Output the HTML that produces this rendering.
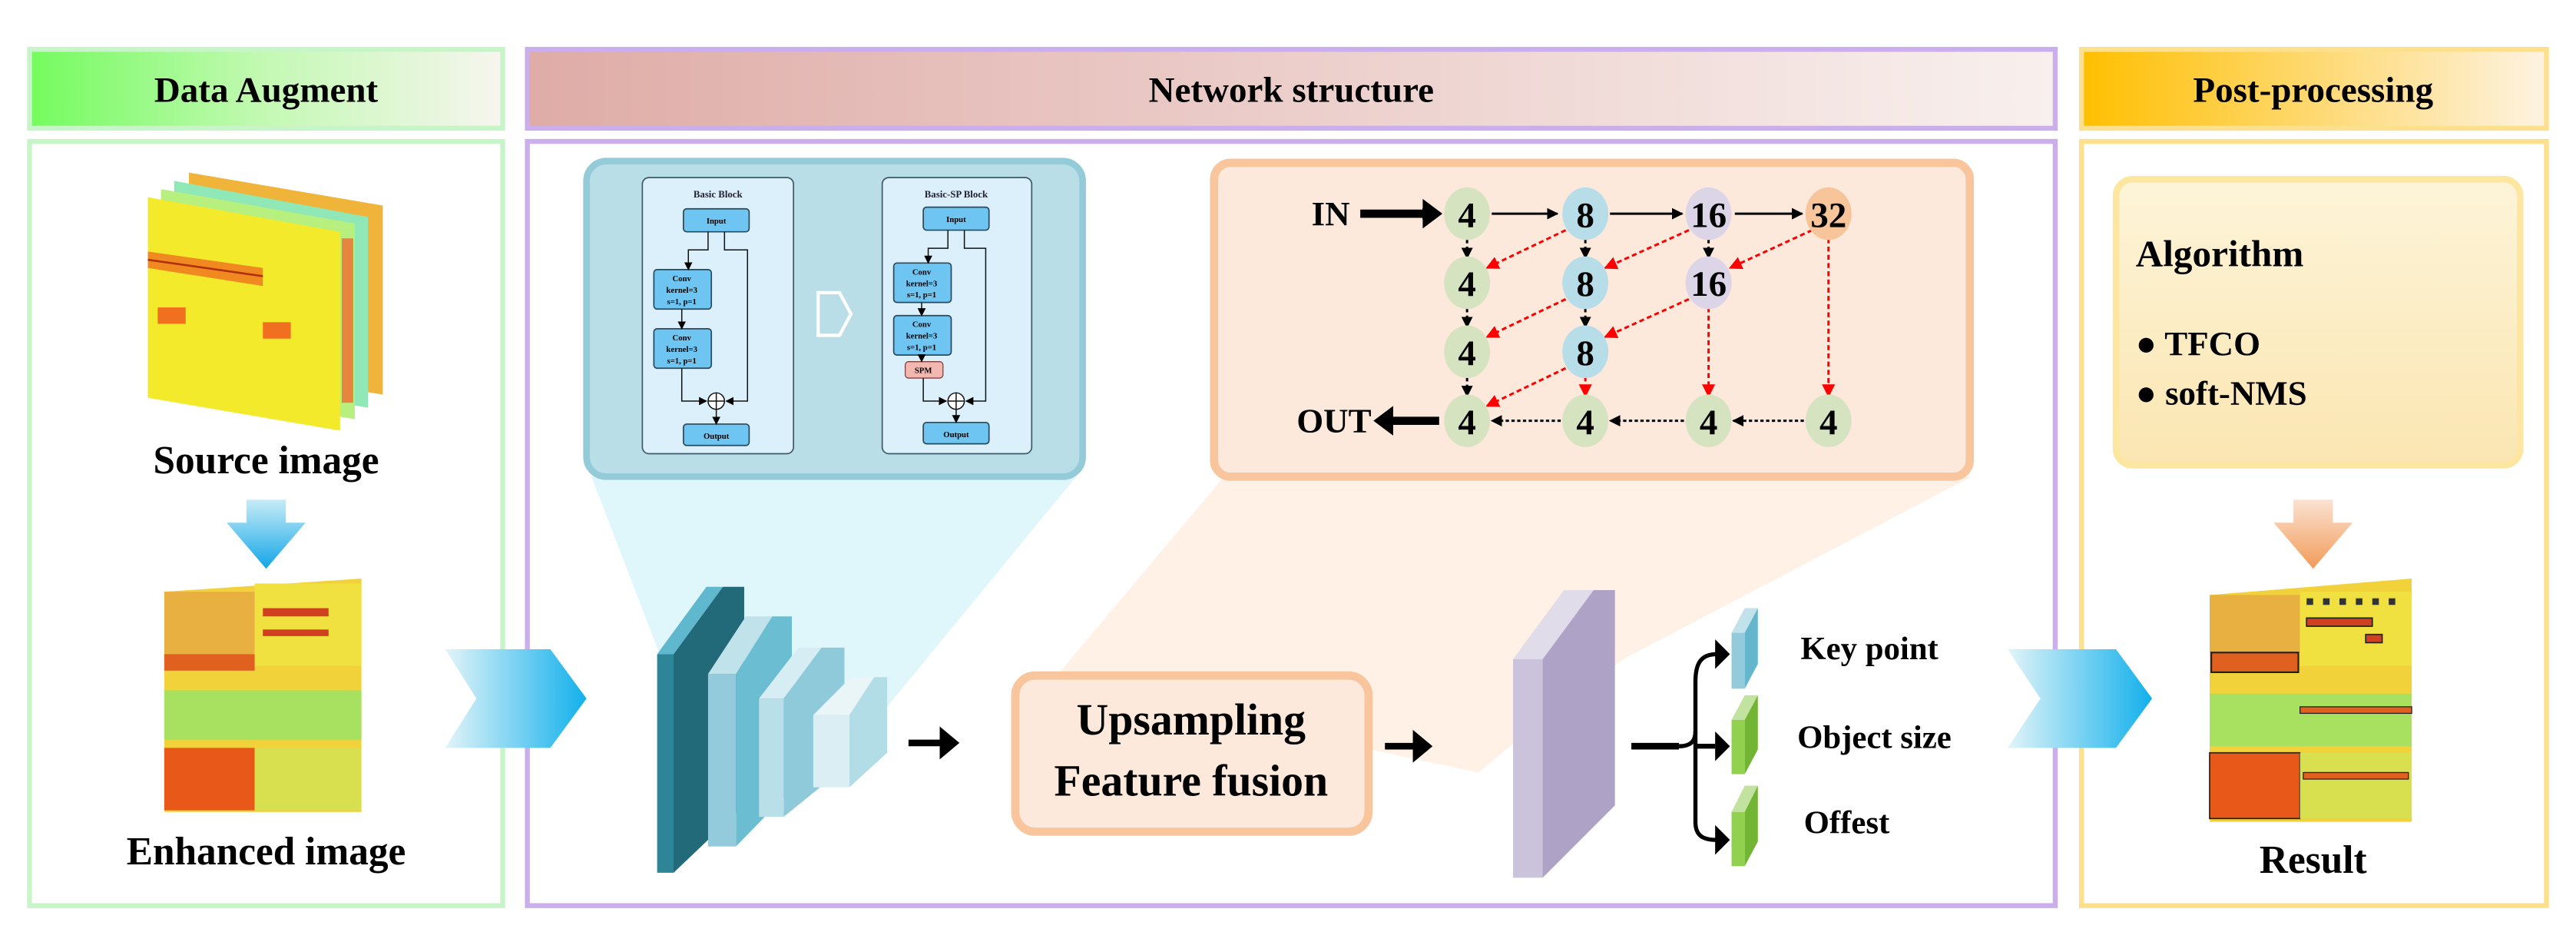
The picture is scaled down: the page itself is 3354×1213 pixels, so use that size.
<!DOCTYPE html>
<html><head><meta charset="utf-8"><style>html,body{margin:0;padding:0;background:#fff}svg{display:block}text{font-family:"Liberation Serif",serif;font-weight:bold}</style></head><body>
<svg width="3354" height="1213" viewBox="0 0 1568 567" xmlns="http://www.w3.org/2000/svg">
<defs>
<linearGradient id="gG" x1="0" x2="1"><stop offset="0" stop-color="#74fb5e"/><stop offset="0.5" stop-color="#c4f9b4"/><stop offset="1" stop-color="#f7f5ef"/></linearGradient>
<linearGradient id="gP" x1="0" x2="1"><stop offset="0" stop-color="#dfaca7"/><stop offset="1" stop-color="#f8f0ee"/></linearGradient>
<linearGradient id="gO" x1="0" x2="1"><stop offset="0" stop-color="#ffbf00"/><stop offset="1" stop-color="#fdf3e2"/></linearGradient>
<linearGradient id="gChev" x1="0" x2="1"><stop offset="0" stop-color="#e2f4f8"/><stop offset="1" stop-color="#12b0ec"/></linearGradient>
<linearGradient id="gDown" x1="0" x2="0" y1="0" y2="1"><stop offset="0" stop-color="#c6ecf6"/><stop offset="1" stop-color="#12a6e8"/></linearGradient>
<linearGradient id="gDownO" x1="0" x2="0" y1="0" y2="1"><stop offset="0" stop-color="#fbe2d2"/><stop offset="1" stop-color="#f29b58"/></linearGradient>
<linearGradient id="gAlg" x1="0" x2="0" y1="0" y2="1"><stop offset="0" stop-color="#fdf4d8"/><stop offset="1" stop-color="#fbe6b2"/></linearGradient>
<marker id="ab" viewBox="0 0 10 10" refX="9" refY="5" markerWidth="7" markerHeight="7" orient="auto" markerUnits="userSpaceOnUse"><path d="M0,0L10,5L0,10z" fill="#000"/></marker>
<marker id="ar" viewBox="0 0 10 10" refX="9" refY="5" markerWidth="8" markerHeight="8" orient="auto" markerUnits="userSpaceOnUse"><path d="M0,0L10,5L0,10z" fill="#f00"/></marker>
<marker id="abs" viewBox="0 0 10 10" refX="9" refY="5" markerWidth="5" markerHeight="5" orient="auto" markerUnits="userSpaceOnUse"><path d="M0,0L10,5L0,10z" fill="#000"/></marker>
</defs>

<rect x="18" y="30" width="288" height="48" fill="url(#gG)" stroke="#c8f5c8" stroke-width="3"/>
<rect x="321" y="30" width="930" height="48" fill="url(#gP)" stroke="#cbaeec" stroke-width="3"/>
<rect x="1267" y="30" width="283" height="48" fill="url(#gO)" stroke="#fde08e" stroke-width="3"/>
<text x="162" y="62" font-size="22" text-anchor="middle">Data Augment</text>
<text x="786" y="62" font-size="22" text-anchor="middle">Network structure</text>
<text x="1408" y="62" font-size="22" text-anchor="middle">Post-processing</text>
<rect x="18" y="86" width="288" height="465" fill="#fff" stroke="#c8f5c8" stroke-width="3"/>
<rect x="321" y="86" width="930" height="465" fill="#fff" stroke="#cbaeec" stroke-width="3"/>
<rect x="1267" y="86" width="283" height="465" fill="#fff" stroke="#fde08e" stroke-width="3"/>

<!-- source image stack -->
<polygon points="115,105 233,125 233,240 115,222" fill="#f0b43a"/>
<polygon points="106,110 224,132 224,248 106,228" fill="#8fe8b6"/>
<polygon points="98,115 216,136 216,255 98,236" fill="#b8f080"/>
<polygon points="90,120 207,141 207,262 90,242" fill="#f2ea2a"/>
<polygon points="90,153 160,163 160,174 90,163" fill="#f08a20"/>
<line x1="90" y1="158" x2="160" y2="168" stroke="#b03010" stroke-width="1.2"/>
<rect x="96" y="187" width="17" height="10" fill="#f07020"/>
<rect x="160" y="196" width="17" height="10" fill="#f07020"/>
<rect x="208" y="145" width="7" height="100" fill="#f06a30" opacity="0.8"/>
<text x="162" y="288" font-size="24" text-anchor="middle">Source image</text>
<polygon points="150,304 174,304 174,318 186,318 162,346 138,318 150,318" fill="url(#gDown)"/>
<polygon points="100,360 220,352 220,494 100,494" fill="#f2d23a"/>
<rect x="100" y="360" width="55" height="40" fill="#e8b040"/>
<rect x="155" y="355" width="65" height="50" fill="#f0e040"/>
<rect x="100" y="398" width="55" height="10" fill="#e06020"/>
<rect x="160" y="370" width="40" height="5" fill="#d04020"/>
<rect x="160" y="383" width="40" height="4" fill="#d04020"/>
<rect x="100" y="420" width="120" height="30" fill="#a8e060"/>
<rect x="100" y="455" width="55" height="38" fill="#e85818"/>
<rect x="155" y="455" width="65" height="38" fill="#d8e050"/>
<text x="162" y="526" font-size="24" text-anchor="middle">Enhanced image</text>

<polygon points="271,395 335,395 357,425 335,455 271,455 290,425" fill="url(#gChev)"/>
<polygon points="1222,395 1288,395 1310,425 1288,455 1222,455 1242,425" fill="url(#gChev)"/>

<polygon points="360,290 655,290 540,430 410,420" fill="#dff6fb"/>
<polygon points="745,290 1200,290 990,400 960,420 900,470 640,415" fill="#fff1e6"/>

<rect x="357" y="98" width="302" height="192" rx="12" fill="#b9dee8" stroke="#93cbd9" stroke-width="4"/>
<rect x="391" y="108" width="92" height="168" rx="4" fill="#dcf0fc" stroke="#3d5a6a" stroke-width="0.8"/>
<rect x="537" y="108" width="91" height="168" rx="4" fill="#dcf0fc" stroke="#3d5a6a" stroke-width="0.8"/>
<g font-size="6" text-anchor="middle" fill="#223">
<text x="437" y="120" font-weight="normal">Basic Block</text>
<text x="582" y="120" font-weight="normal">Basic-SP Block</text>
</g>
<g fill="#6ec5f2" stroke="#2a4a5a" stroke-width="0.8">
<rect x="416" y="127" width="40" height="14" rx="2"/>
<rect x="398" y="164" width="35" height="24" rx="2"/>
<rect x="398" y="200" width="35" height="24" rx="2"/>
<rect x="416" y="258" width="40" height="13" rx="2"/>
<rect x="562" y="126" width="40" height="14" rx="2"/>
<rect x="544" y="160" width="35" height="24" rx="2"/>
<rect x="544" y="192" width="35" height="24" rx="2"/>
<rect x="562" y="257" width="40" height="13" rx="2"/>
</g>
<rect x="551" y="220" width="23" height="10" rx="2" fill="#f2b8b0" stroke="#804040" stroke-width="0.6"/>
<g font-size="5" text-anchor="middle" font-weight="normal">
<text x="436" y="136">Input</text><text x="582" y="135">Input</text>
<text x="415" y="171">Conv</text><text x="415" y="178">kernel=3</text><text x="415" y="185">s=1, p=1</text>
<text x="415" y="207">Conv</text><text x="415" y="214">kernel=3</text><text x="415" y="221">s=1, p=1</text>
<text x="561" y="167">Conv</text><text x="561" y="174">kernel=3</text><text x="561" y="181">s=1, p=1</text>
<text x="561" y="199">Conv</text><text x="561" y="206">kernel=3</text><text x="561" y="213">s=1, p=1</text>
<text x="562" y="227">SPM</text>
<text x="436" y="267">Output</text><text x="582" y="266">Output</text>
</g>
<g fill="none" stroke="#111" stroke-width="0.7">
<path d="M431,141V152H419V164" marker-end="url(#abs)"/><path d="M441,141V152H455V244H442" marker-end="url(#abs)"/>
<path d="M415,188V200" marker-end="url(#abs)"/><path d="M415,224V244H430" marker-end="url(#abs)"/>
<circle cx="436" cy="244" r="5" fill="#fff"/><path d="M431,244H441M436,239V249"/><path d="M436,249V258" marker-end="url(#abs)"/>
<path d="M577,140V151H565V160" marker-end="url(#abs)"/><path d="M587,140V151H600V244H588" marker-end="url(#abs)"/>
<path d="M561,184V192" marker-end="url(#abs)"/><path d="M561,216V220" marker-end="url(#abs)"/><path d="M562,230V244H576" marker-end="url(#abs)"/>
<circle cx="582" cy="244" r="5" fill="#fff"/><path d="M577,244H587M582,239V249"/><path d="M582,249V257" marker-end="url(#abs)"/>
</g>
<polygon points="498,178 511,178 518,191 511,204 498,204" fill="none" stroke="#fff" stroke-width="2"/>

<rect x="739" y="99" width="460" height="191" rx="10" fill="#fce9dc" stroke="#f8c59c" stroke-width="5"/>
<g font-size="21" text-anchor="middle">
<text x="810" y="137">IN</text><text x="812" y="263">OUT</text>
</g>
<path d="M828,130H872" stroke="#000" stroke-width="5" marker-end="url(#ab)"/>
<path d="M876,256H846" stroke="#000" stroke-width="5"/><polygon points="836,256 848,247 848,265" fill="#000"/>
<polygon points="866,121 878,130 866,139" fill="#000"/>
<g stroke="#000" stroke-width="1.4" fill="none" marker-end="url(#ab)">
<path d="M908,130H948"/><path d="M980,130H1024"/><path d="M1056,130H1097"/>
<path d="M893,145V157" stroke-dasharray="3,2"/><path d="M893,187V199" stroke-dasharray="3,2"/><path d="M893,229V241" stroke-dasharray="3,2"/>
<path d="M965,145V157" stroke-dasharray="3,2"/><path d="M965,187V199" stroke-dasharray="3,2"/><path d="M1040,145V157" stroke-dasharray="3,2"/>
<path d="M950,256H908" stroke-dasharray="2,1.5"/><path d="M1025,256H980" stroke-dasharray="2,1.5"/><path d="M1098,256H1055" stroke-dasharray="2,1.5"/>
</g>
<g stroke="#f00" stroke-width="1.4" fill="none" stroke-dasharray="3,2" marker-end="url(#ar)">
<path d="M953,140L905,163"/><path d="M1028,140L977,163"/><path d="M1103,140L1053,163"/>
<path d="M953,182L905,205"/><path d="M1028,182L977,205"/><path d="M953,224L905,247"/>
<path d="M965,229V241"/><path d="M1040,187V241"/><path d="M1113,145V241"/>
</g>
<g font-size="22" text-anchor="middle">
<ellipse cx="893" cy="130" rx="14" ry="16" fill="#d6e3c1"/><text x="893" y="138">4</text>
<ellipse cx="965" cy="130" rx="14" ry="16" fill="#b7dde8"/><text x="965" y="138">8</text>
<ellipse cx="1040" cy="130" rx="14" ry="16" fill="#dcd5e8"/><text x="1040" y="138">16</text>
<ellipse cx="1113" cy="130" rx="14" ry="16" fill="#f8c49a"/><text x="1113" y="138">32</text>
<ellipse cx="893" cy="172" rx="14" ry="16" fill="#d6e3c1"/><text x="893" y="180">4</text>
<ellipse cx="965" cy="172" rx="14" ry="16" fill="#b7dde8"/><text x="965" y="180">8</text>
<ellipse cx="1040" cy="172" rx="14" ry="16" fill="#dcd5e8"/><text x="1040" y="180">16</text>
<ellipse cx="893" cy="214" rx="14" ry="16" fill="#d6e3c1"/><text x="893" y="222">4</text>
<ellipse cx="965" cy="214" rx="14" ry="16" fill="#b7dde8"/><text x="965" y="222">8</text>
<ellipse cx="893" cy="256" rx="14" ry="16" fill="#d6e3c1"/><text x="893" y="264">4</text>
<ellipse cx="965" cy="256" rx="14" ry="16" fill="#d6e3c1"/><text x="965" y="264">4</text>
<ellipse cx="1040" cy="256" rx="14" ry="16" fill="#d6e3c1"/><text x="1040" y="264">4</text>
<ellipse cx="1113" cy="256" rx="14" ry="16" fill="#d6e3c1"/><text x="1113" y="264">4</text>
</g>

<polygon points="410,398 440,357 453,357 453,490 410,531" fill="#22697a"/>
<polygon points="400,398 430,357 440,357 410,398" fill="#5fb8cd"/>
<rect x="400" y="398" width="10" height="133" fill="#2e8597"/>
<polygon points="448,410 470,375 482,375 482,480 448,515" fill="#6bbdd1"/>
<polygon points="431,410 454,375 470,375 448,410" fill="#c0e2ea"/>
<rect x="431" y="410" width="17" height="105" fill="#93cbdc"/>
<polygon points="477,425 500,394 514,394 514,467 477,497" fill="#8fcadb"/>
<polygon points="462,425 486,394 500,394 477,425" fill="#d6edf3"/>
<rect x="462" y="425" width="15" height="72" fill="#b9dfe8"/>
<polygon points="517,435 532,412 540,412 540,458 517,479" fill="#b2dce6"/>
<polygon points="495,435 518,412 532,412 517,435" fill="#eaf5f8"/>
<rect x="495" y="435" width="22" height="44" fill="#dbeef4"/>

<path d="M553,452H574" stroke="#000" stroke-width="4"/><polygon points="572,442 584,452 572,462" fill="#000"/>
<rect x="618" y="411" width="215" height="95" rx="12" fill="#fce9dc" stroke="#f8c59c" stroke-width="5"/>
<text x="725" y="447" font-size="27" text-anchor="middle">Upsampling</text>
<text x="725" y="484" font-size="27" text-anchor="middle">Feature fusion</text>
<path d="M843,454H862" stroke="#000" stroke-width="4"/><polygon points="860,444 872,454 860,464" fill="#000"/>

<polygon points="939,401 970,359 983,359 983,490 939,534" fill="#afa2c7"/>
<polygon points="921,401 952,359 970,359 939,401" fill="#e1dcea"/>
<rect x="921" y="401" width="18" height="133" fill="#cbc3dc"/>

<path d="M993,454H1022" stroke="#000" stroke-width="4"/>
<path d="M1045,398C1035,398 1032,404 1032,415V500C1032,508 1036,511 1045,511" fill="none" stroke="#000" stroke-width="2.5"/>
<path d="M1022,454C1030,454 1032,450 1032,445" fill="none" stroke="#000" stroke-width="2.5"/>
<path d="M1032,454H1044" stroke="#000" stroke-width="3"/>
<polygon points="1044,389 1053,398 1044,407" fill="#000"/><polygon points="1044,445 1053,454 1044,463" fill="#000"/><polygon points="1044,502 1053,511 1044,520" fill="#000"/>
<polygon points="1054,385 1062,370 1070,370 1062,385" fill="#c1e2ea"/><polygon points="1062,385 1070,370 1070,404 1062,419" fill="#64b6cc"/><rect x="1054" y="385" width="8" height="34" fill="#93cbdc"/>
<polygon points="1054,438 1062,423 1070,423 1062,438" fill="#c2e2a0"/><polygon points="1062,438 1070,423 1070,456 1062,471" fill="#72b534"/><rect x="1054" y="438" width="8" height="33" fill="#92d050"/>
<polygon points="1054,494 1062,478 1070,478 1062,494" fill="#c2e2a0"/><polygon points="1062,494 1070,478 1070,512 1062,527" fill="#72b534"/><rect x="1054" y="494" width="8" height="33" fill="#92d050"/>
<g font-size="20">
<text x="1096" y="401">Key point</text><text x="1094" y="455">Object size</text><text x="1098" y="507">Offest</text>
</g>

<rect x="1288" y="109" width="246" height="174" rx="10" fill="url(#gAlg)" stroke="#fde6a0" stroke-width="4"/>
<text x="1300" y="162" font-size="23">Algorithm</text>
<text x="1300" y="216" font-size="21">● TFCO</text>
<text x="1300" y="246" font-size="21">● soft-NMS</text>
<polygon points="1396,304 1420,304 1420,318 1432,318 1408,346 1384,318 1396,318" fill="url(#gDownO)"/>
<polygon points="1345,362 1468,352 1468,500 1345,500" fill="#f2d23a"/>
<rect x="1345" y="362" width="55" height="35" fill="#e8b040"/>
<rect x="1400" y="360" width="68" height="45" fill="#f0e040"/>
<rect x="1346" y="397" width="53" height="12" fill="#e06020" stroke="#222" stroke-width="1"/>
<rect x="1404" y="376" width="40" height="5" fill="#d04020" stroke="#222" stroke-width="0.8"/>
<rect x="1440" y="386" width="10" height="5" fill="#d04020" stroke="#222" stroke-width="0.8"/>
<g fill="#333"><rect x="1404" y="364" width="4" height="4"/><rect x="1414" y="364" width="4" height="4"/><rect x="1424" y="364" width="4" height="4"/><rect x="1434" y="364" width="4" height="4"/><rect x="1444" y="364" width="4" height="4"/><rect x="1454" y="364" width="4" height="4"/></g>
<rect x="1345" y="422" width="123" height="32" fill="#a8e060"/>
<rect x="1400" y="430" width="68" height="4" fill="#e06020" stroke="#222" stroke-width="0.6"/>
<rect x="1345" y="458" width="55" height="40" fill="#e85818" stroke="#222" stroke-width="0.8"/>
<rect x="1400" y="458" width="68" height="40" fill="#d8e050"/>
<rect x="1402" y="470" width="64" height="4" fill="#e06020" stroke="#222" stroke-width="0.6"/>
<text x="1408" y="531" font-size="24" text-anchor="middle">Result</text>
</svg>
</body></html>
